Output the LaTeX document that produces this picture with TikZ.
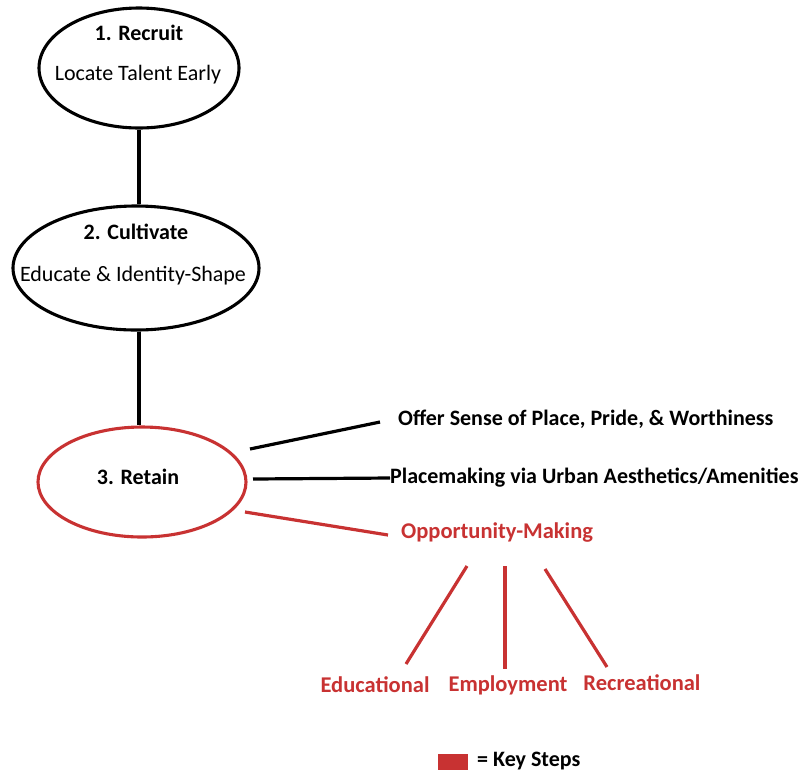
\documentclass[tikz,border=0pt]{standalone}
\usepackage{fontspec}
\setmainfont{Carlito}
\usetikzlibrary{shapes.geometric}
\definecolor{keyred}{RGB}{200,50,50}
\begin{document}
\begin{tikzpicture}[x=1pt,y=-1pt,
  oval/.style={draw,ellipse,line width=3.1pt,inner sep=0pt},
  conn/.style={line width=3.2pt},
  rconn/.style={line width=3.2pt,draw=keyred},
  ttl/.style={font=\bfseries\fontsize{22}{26}\selectfont,inner sep=0pt},
  sub/.style={font=\fontsize{22}{26}\selectfont,inner sep=0pt},
  lbl/.style={font=\bfseries\fontsize{22}{26}\selectfont,inner sep=0pt,anchor=west},
  rlbl/.style={font=\bfseries\fontsize{22.5}{26}\selectfont,inner sep=0pt,text=keyred}]
\useasboundingbox (0,0) rectangle (805,772);
% ellipses
\node[oval,minimum width=200pt,minimum height=120pt] (e1) at (139,68) {};
\node[oval,minimum width=246pt,minimum height=124pt] (e2) at (136,268) {};
\node[oval,draw=keyred,minimum width=208pt,minimum height=110pt] (e3) at (142,482) {};
\node[ttl] (t1) at (139,33) {1. Recruit};
\node[sub] (s1) at (138,75) {Locate Talent Early};
\node[ttl] (t2) at (136,232) {2. Cultivate};
\node[sub] (s2) at (133,276) {Educate \& Identity-Shape};
\node[ttl] (t3) at (138,477) {3. Retain};
\draw[conn] (e1.south) -- (e1.south |- e2.north);
\draw[conn] (e1.south |- e2.south) -- (e1.south |- e3.north);
% branches
\node[lbl] (b1) at (398,419) {Offer Sense of Place, Pride, \& Worthiness};
\node[lbl] (b2) at (390,478) {Placemaking via Urban Aesthetics/Amenities};
\node[rlbl,anchor=west] (b3) at (401,532) {Opportunity-Making};
\coordinate (c1s) at (250,449);
\coordinate (c1e) at (380,422);
\coordinate (c2s) at (253,479);
\coordinate (c3s) at (245,512);
\coordinate (c3e) at (388,535);
\draw[conn] (c1s) -- (c1e);
\draw[conn] (c2s) -- (b2.west);
\draw[rconn] (c3s) -- (c3e);
% sub-branches
\node[rlbl] (d1) at (375,685) {Educational};
\node[rlbl] (d2) at (508,685) {Employment};
\node[rlbl] (d3) at (642,683) {Recreational};
\coordinate (o1) at (467,566);
\coordinate (o2) at (505,566);
\coordinate (o3) at (545,569);
\coordinate (f1) at (406,664);
\coordinate (f2) at (505,669);
\coordinate (f3) at (607,667);
\draw[rconn] (o1) -- (f1);
\draw[rconn] (o2) -- (f2);
\draw[rconn] (o3) -- (f3);
% legend
\node[fill=keyred,minimum width=30pt,minimum height=16pt,inner sep=0pt] (key) at (453,762) {};
\node[font=\bfseries\fontsize{22}{26}\selectfont,inner sep=0pt,anchor=west] (keyt) at (477,761) {= Key Steps};
\end{tikzpicture}
\end{document}
